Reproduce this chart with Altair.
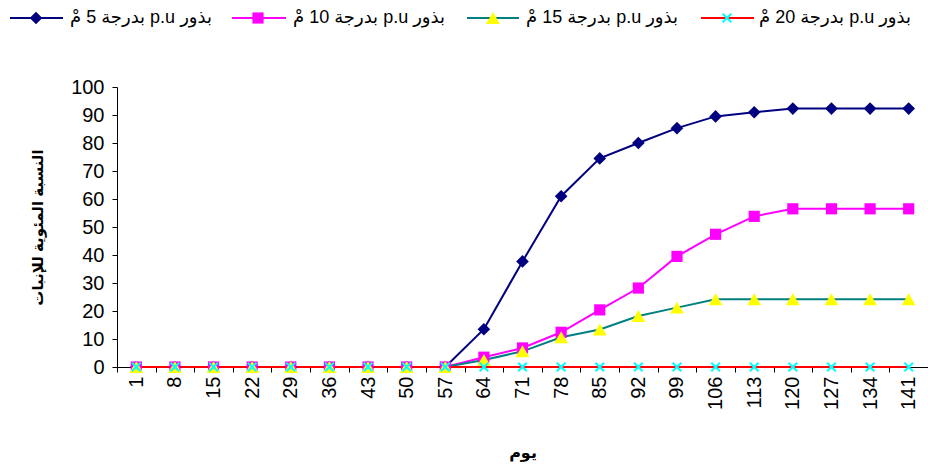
import altair as alt
import pandas as pd

days = [1, 8, 15, 22, 29, 36, 43, 50, 57, 64, 71, 78, 85, 92, 99, 106, 113, 120, 127, 134, 141]
s5 = [0, 0, 0, 0, 0, 0, 0, 0, 0, 13.5, 37.7, 61, 74.5, 80, 85.3, 89.5, 91, 92.3, 92.3, 92.3, 92.3]
s10 = [0, 0, 0, 0, 0, 0, 0, 0, 0, 3.5, 6.8, 12.4, 20.4, 28.2, 39.5, 47.4, 53.8, 56.5, 56.5, 56.5, 56.5]
s15 = [0, 0, 0, 0, 0, 0, 0, 0, 0, 2.5, 5.6, 10.6, 13.4, 18.2, 21.2, 24.2, 24.2, 24.2, 24.2, 24.2, 24.2]
s20 = [0] * 21
labels = ["بذور p.u بدرجة 5 مْ", "بذور p.u بدرجة 10 مْ", "بذور p.u بدرجة 15 مْ", "بذور p.u بدرجة 20 مْ"]
y_title = "النسبة المئوية للإنبات"
x_title = "يوم"

series_vals = [s5, s10, s15, s20]
line_colors = ["#000080", "#FF00FF", "#008080", "#FF0000"]
marker_fill = ["#000080", "#FF00FF", "#FFFF00", "transparent"]
marker_stroke = ["#000080", "#FF00FF", "#FFFF00", "#00FFFF"]
shapes = ["diamond", "square", "triangle-up", "M-1,-1L1,1M-1,1L1,-1"]
sizes = [160, 125, 190, 75]
stroke_w = [0, 0, 0, 2]

day_str = [str(d) for d in days]
FONT = "Liberation Sans, Arial, DejaVu Sans, sans-serif"

xenc = alt.X("day:O", sort=day_str,
             scale=alt.Scale(type="band", domain=day_str, paddingInner=0, paddingOuter=0),
             axis=alt.Axis(title=x_title, labelAngle=270, tickBand="extent", grid=False,
                           domainColor="black", tickColor="black", tickSize=5,
                           labelFontSize=20, labelFont=FONT, labelColor="black", labelPadding=4,
                           titleFontSize=16, titleFontWeight="bold", titleFont=FONT, titleColor="black",
                           titleY=85, titleBaseline="middle", titlePadding=0))
yenc = alt.Y("value:Q", scale=alt.Scale(domain=[0, 100], nice=False),
             axis=alt.Axis(title=y_title, values=list(range(0, 101, 10)), grid=False,
                           domainColor="black", tickColor="black", tickSize=5,
                           labelFontSize=20, labelFont=FONT, labelColor="black", labelPadding=8,
                           titleFontSize=15, titleFontWeight="bold", titleFont=FONT, titleColor="black",
                           titleX=-72))

layers = []
for i in range(4):
    df = pd.DataFrame({"day": day_str, "value": series_vals[i], "series": labels[i]})
    base = alt.Chart(df)
    layers.append(base.mark_line(color=line_colors[i], strokeWidth=2).encode(x=xenc, y=yenc))
for i in range(4):
    df = pd.DataFrame({"day": day_str, "value": series_vals[i], "series": labels[i]})
    base = alt.Chart(df)
    layers.append(base.mark_point(shape=shapes[i], filled=(i < 3), fill=marker_fill[i],
                                  color=marker_stroke[i], stroke=marker_stroke[i],
                                  strokeWidth=stroke_w[i], size=sizes[i], opacity=1).encode(x=xenc, y=yenc))

# manual legend (positions relative to plot origin)
OX = 117
leg_y = -69
line_x = [(10, 63), (232, 286), (467, 519), (701, 754)]
mark_x = [36, 258, 493, 727]
text_x = [70, 293, 526, 759]
for i in range(4):
    ldf = pd.DataFrame({"label": ["\u202b" + labels[i] + "\u202c"]})
    lb = alt.Chart(ldf)
    layers.append(lb.mark_rule(color=line_colors[i], strokeWidth=2).encode(
        x=alt.value(line_x[i][0] - OX), x2=alt.value(line_x[i][1] - OX), y=alt.value(leg_y)))
    layers.append(lb.mark_point(shape=shapes[i], filled=(i < 3), fill=marker_fill[i],
                                color=marker_stroke[i], stroke=marker_stroke[i],
                                strokeWidth=stroke_w[i], size=sizes[i], opacity=1).encode(
        x=alt.value(mark_x[i] - OX), y=alt.value(leg_y)))
    layers.append(lb.mark_text(align="left", baseline="middle", fontSize=18, font=FONT,
                               color="black").encode(
        x=alt.value(text_x[i] - OX), y=alt.value(leg_y), text="label:N"))

chart = alt.layer(*layers).properties(
    width=811, height=280,
    autosize=alt.AutoSizeParams(type="none"),
    padding={"left": 117, "top": 87, "right": 0, "bottom": 100},
    background="white",
).configure_view(stroke=None)

chart.save("out.html", embed_options={"renderer": "svg", "actions": False})
